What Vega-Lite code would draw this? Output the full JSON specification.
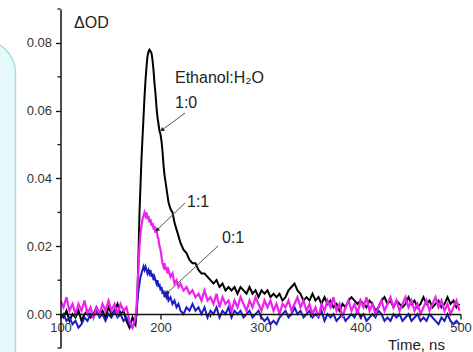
{
  "$schema": "https://vega.github.io/schema/vega-lite/v6.json",
  "width": 400,
  "height": 339,
  "autosize": "none",
  "padding": {"left": 60.5, "top": 9, "right": 12.5, "bottom": 4},
  "background": "white",
  "config": {"view": {"stroke": null}, "font": "Liberation Sans", "axis": {"grid": false}},
  "datasets": {
    "panel": [{"x1": -20.5, "x2": 55, "y1": 0.0808, "y2": -0.03}],
    "yminor": [{"v": -0.01}, {"v": 0.01}, {"v": 0.03}, {"v": 0.05}, {"v": 0.07}, {"v": 0.09}],
    "xminor": [{"v": 150}, {"v": 250}, {"v": 350}, {"v": 450}],
    "notes": [
      {"x": 214.5, "y": 0.0682, "label": "Ethanol:H₂O"},
      {"x": 214.5, "y": 0.0608, "label": "1:0"},
      {"x": 226.5, "y": 0.0316, "label": "1:1"},
      {"x": 261.5, "y": 0.021, "label": "0:1"}
    ],
    "leaders": [
      {"n": "1:0", "x1": 224.5, "y1": 0.0593, "x2": 201.5, "y2": 0.0543},
      {"n": "1:1", "x1": 224.5, "y1": 0.0328, "x2": 196.5, "y2": 0.0248},
      {"n": "0:1", "x1": 257.5, "y1": 0.0201, "x2": 206.5, "y2": 0.0062}
    ],
    "traces": [
      {"t":100,"a":0.000,"b":0.004,"c":-0.001},
      {"t":103,"a":-0.001,"b":0.002,"c":0.000},
      {"t":106,"a":0.001,"b":0.005,"c":-0.002},
      {"t":109,"a":-0.002,"b":0.001,"c":-0.001},
      {"t":112,"a":0.000,"b":0.003,"c":-0.003},
      {"t":115,"a":-0.001,"b":0.000,"c":-0.002},
      {"t":118,"a":0.001,"b":0.003,"c":-0.004},
      {"t":121,"a":-0.002,"b":0.001,"c":-0.003},
      {"t":124,"a":0.000,"b":0.004,"c":-0.001},
      {"t":127,"a":0.001,"b":0.000,"c":-0.002},
      {"t":130,"a":-0.001,"b":0.002,"c":0.000},
      {"t":133,"a":0.000,"b":-0.001,"c":-0.001},
      {"t":136,"a":0.002,"b":0.002,"c":0.001},
      {"t":139,"a":0.000,"b":0.000,"c":-0.001},
      {"t":142,"a":0.001,"b":0.003,"c":0.000},
      {"t":145,"a":-0.001,"b":0.001,"c":-0.002},
      {"t":148,"a":0.002,"b":0.004,"c":0.000},
      {"t":151,"a":0.000,"b":0.001,"c":-0.001},
      {"t":154,"a":0.001,"b":0.003,"c":0.001},
      {"t":157,"a":0.003,"b":0.000,"c":-0.001},
      {"t":160,"a":0.000,"b":0.003,"c":0.000},
      {"t":163,"a":0.001,"b":0.001,"c":-0.002},
      {"t":166,"a":-0.002,"b":0.002,"c":-0.001},
      {"t":169,"a":-0.004,"b":-0.002,"c":-0.003},
      {"t":172,"a":-0.001,"b":-0.004,"c":-0.004},
      {"t":175,"a":-0.003,"b":-0.001,"c":-0.002},
      {"t":176,"a":0.000,"b":0.002,"c":0.000},
      {"t":177,"a":0.006,"b":0.008,"c":0.004},
      {"t":178,"a":0.018,"b":0.014,"c":0.007},
      {"t":179,"a":0.030,"b":0.020,"c":0.009},
      {"t":180,"a":0.038,"b":0.024,"c":0.011},
      {"t":181,"a":0.046,"b":0.026,"c":0.012},
      {"t":182,"a":0.052,"b":0.028,"c":0.013},
      {"t":183,"a":0.058,"b":0.029,"c":0.014},
      {"t":184,"a":0.064,"b":0.030,"c":0.013},
      {"t":185,"a":0.069,"b":0.029,"c":0.014},
      {"t":186,"a":0.073,"b":0.030,"c":0.013},
      {"t":187,"a":0.076,"b":0.028,"c":0.012},
      {"t":188,"a":0.0775,"b":0.029,"c":0.013},
      {"t":189,"a":0.078,"b":0.027,"c":0.012},
      {"t":190,"a":0.0775,"b":0.028,"c":0.013},
      {"t":191,"a":0.077,"b":0.026,"c":0.011},
      {"t":192,"a":0.075,"b":0.027,"c":0.012},
      {"t":193,"a":0.072,"b":0.025,"c":0.010},
      {"t":194,"a":0.068,"b":0.026,"c":0.011},
      {"t":195,"a":0.065,"b":0.024,"c":0.010},
      {"t":196,"a":0.061,"b":0.025,"c":0.009},
      {"t":197,"a":0.058,"b":0.023,"c":0.010},
      {"t":198,"a":0.056,"b":0.022,"c":0.008},
      {"t":199,"a":0.054,"b":0.020,"c":0.009},
      {"t":200,"a":0.053,"b":0.019,"c":0.007},
      {"t":201,"a":0.051,"b":0.017,"c":0.008},
      {"t":202,"a":0.048,"b":0.015,"c":0.006},
      {"t":203,"a":0.044,"b":0.014,"c":0.007},
      {"t":204,"a":0.041,"b":0.015,"c":0.005},
      {"t":205,"a":0.039,"b":0.013,"c":0.006},
      {"t":206,"a":0.037,"b":0.014,"c":0.005},
      {"t":207,"a":0.035,"b":0.012,"c":0.006},
      {"t":208,"a":0.033,"b":0.013,"c":0.004},
      {"t":210,"a":0.031,"b":0.011,"c":0.005},
      {"t":212,"a":0.030,"b":0.012,"c":0.003},
      {"t":214,"a":0.027,"b":0.009,"c":0.004},
      {"t":216,"a":0.025,"b":0.010,"c":0.002},
      {"t":218,"a":0.023,"b":0.008,"c":0.003},
      {"t":220,"a":0.021,"b":0.009,"c":0.001},
      {"t":223,"a":0.019,"b":0.007,"c":0.000},
      {"t":226,"a":0.018,"b":0.008,"c":0.002},
      {"t":229,"a":0.016,"b":0.006,"c":0.001},
      {"t":232,"a":0.015,"b":0.007,"c":0.003},
      {"t":235,"a":0.015,"b":0.005,"c":0.001},
      {"t":238,"a":0.013,"b":0.006,"c":0.002},
      {"t":241,"a":0.012,"b":0.004,"c":0.000},
      {"t":244,"a":0.012,"b":0.007,"c":0.002},
      {"t":247,"a":0.011,"b":0.004,"c":-0.001},
      {"t":250,"a":0.010,"b":0.005,"c":0.001},
      {"t":253,"a":0.009,"b":0.003,"c":0.000},
      {"t":256,"a":0.010,"b":0.006,"c":0.002},
      {"t":259,"a":0.008,"b":0.002,"c":-0.001},
      {"t":262,"a":0.009,"b":0.005,"c":0.001},
      {"t":265,"a":0.007,"b":0.003,"c":0.000},
      {"t":268,"a":0.008,"b":0.004,"c":0.002},
      {"t":271,"a":0.007,"b":0.001,"c":-0.001},
      {"t":274,"a":0.008,"b":0.004,"c":0.001},
      {"t":277,"a":0.006,"b":0.002,"c":0.000},
      {"t":280,"a":0.008,"b":0.005,"c":0.001},
      {"t":283,"a":0.007,"b":0.003,"c":-0.001},
      {"t":286,"a":0.006,"b":0.001,"c":0.000},
      {"t":289,"a":0.008,"b":0.004,"c":0.001},
      {"t":292,"a":0.006,"b":0.002,"c":-0.001},
      {"t":295,"a":0.007,"b":0.005,"c":0.000},
      {"t":298,"a":0.005,"b":0.003,"c":0.001},
      {"t":301,"a":0.007,"b":0.001,"c":-0.001},
      {"t":304,"a":0.006,"b":0.004,"c":-0.002},
      {"t":307,"a":0.007,"b":0.002,"c":-0.001},
      {"t":310,"a":0.005,"b":0.004,"c":-0.003},
      {"t":313,"a":0.006,"b":0.001,"c":-0.002},
      {"t":316,"a":0.005,"b":0.003,"c":-0.003},
      {"t":319,"a":0.006,"b":0.000,"c":-0.001},
      {"t":322,"a":0.004,"b":0.003,"c":0.000},
      {"t":325,"a":0.005,"b":0.002,"c":0.001},
      {"t":328,"a":0.007,"b":0.004,"c":-0.001},
      {"t":331,"a":0.008,"b":0.001,"c":0.000},
      {"t":334,"a":0.009,"b":0.003,"c":0.002},
      {"t":337,"a":0.007,"b":0.005,"c":0.000},
      {"t":340,"a":0.006,"b":0.002,"c":0.001},
      {"t":343,"a":0.004,"b":0.004,"c":-0.001},
      {"t":346,"a":0.005,"b":0.001,"c":0.000},
      {"t":349,"a":0.004,"b":0.003,"c":0.001},
      {"t":352,"a":0.006,"b":0.000,"c":-0.001},
      {"t":355,"a":0.004,"b":0.002,"c":0.000},
      {"t":358,"a":0.005,"b":-0.001,"c":-0.001},
      {"t":361,"a":0.003,"b":0.003,"c":0.001},
      {"t":364,"a":0.005,"b":0.001,"c":-0.002},
      {"t":367,"a":0.003,"b":0.004,"c":0.000},
      {"t":370,"a":0.004,"b":0.002,"c":-0.001},
      {"t":373,"a":0.002,"b":0.005,"c":0.000},
      {"t":376,"a":0.003,"b":0.001,"c":-0.002},
      {"t":379,"a":0.001,"b":0.003,"c":-0.001},
      {"t":382,"a":0.003,"b":-0.001,"c":0.000},
      {"t":385,"a":0.002,"b":0.002,"c":-0.002},
      {"t":388,"a":0.004,"b":0.004,"c":-0.001},
      {"t":391,"a":0.005,"b":0.001,"c":0.000},
      {"t":394,"a":0.004,"b":0.003,"c":-0.001},
      {"t":397,"a":0.003,"b":0.000,"c":0.001},
      {"t":400,"a":0.004,"b":0.004,"c":-0.001},
      {"t":403,"a":0.003,"b":0.002,"c":0.000},
      {"t":406,"a":0.002,"b":0.005,"c":-0.002},
      {"t":409,"a":0.004,"b":0.001,"c":-0.001},
      {"t":412,"a":0.003,"b":0.003,"c":0.000},
      {"t":415,"a":0.001,"b":0.000,"c":-0.001},
      {"t":418,"a":0.002,"b":0.002,"c":0.001},
      {"t":421,"a":0.004,"b":0.004,"c":0.000},
      {"t":424,"a":0.005,"b":0.001,"c":-0.002},
      {"t":427,"a":0.003,"b":0.003,"c":-0.001},
      {"t":430,"a":0.004,"b":0.005,"c":-0.002},
      {"t":433,"a":0.002,"b":0.002,"c":0.000},
      {"t":436,"a":0.004,"b":0.004,"c":-0.001},
      {"t":439,"a":0.003,"b":0.001,"c":0.000},
      {"t":442,"a":0.002,"b":0.003,"c":-0.002},
      {"t":445,"a":0.003,"b":0.005,"c":-0.001},
      {"t":448,"a":0.005,"b":0.002,"c":0.000},
      {"t":451,"a":0.003,"b":0.004,"c":-0.002},
      {"t":454,"a":0.004,"b":0.001,"c":-0.001},
      {"t":457,"a":0.002,"b":0.003,"c":0.000},
      {"t":460,"a":0.003,"b":0.000,"c":-0.002},
      {"t":463,"a":0.005,"b":0.002,"c":-0.001},
      {"t":466,"a":0.003,"b":0.004,"c":-0.002},
      {"t":469,"a":0.004,"b":0.001,"c":0.000},
      {"t":472,"a":0.002,"b":0.003,"c":-0.001},
      {"t":475,"a":0.003,"b":0.005,"c":-0.002},
      {"t":478,"a":0.004,"b":0.002,"c":-0.003},
      {"t":481,"a":0.002,"b":0.004,"c":-0.001},
      {"t":484,"a":0.003,"b":0.001,"c":-0.002},
      {"t":487,"a":0.005,"b":0.003,"c":0.000},
      {"t":490,"a":0.003,"b":0.000,"c":-0.002},
      {"t":493,"a":0.004,"b":0.002,"c":-0.003},
      {"t":496,"a":0.002,"b":0.004,"c":-0.002},
      {"t":499,"a":0.003,"b":0.001,"c":-0.003}
    ]
  },
  "layer": [
    {
      "data": {"name": "panel"},
      "mark": {"type": "rect", "fill": "#e6fafc", "stroke": "#a9dde2", "strokeWidth": 1.5, "cornerRadius": 33, "clip": false},
      "encoding": {
        "x": {"field": "x1", "type": "quantitative", "scale": {"domain": [100, 500], "nice": false, "zero": false}},
        "x2": {"field": "x2"},
        "y": {"field": "y1", "type": "quantitative", "scale": {"domain": [-0.01, 0.09], "nice": false, "zero": false}},
        "y2": {"field": "y2"}
      }
    },
    {
      "data": {"name": "traces"},
      "mark": {"type": "line", "color": "#000000", "strokeWidth": 2, "clip": true},
      "encoding": {
        "x": {"field": "t", "type": "quantitative", "scale": {"domain": [100, 500], "nice": false, "zero": false},
          "axis": {
            "values": [100, 200, 300, 400, 500],
            "tickSize": 5,
            "offset": -34,
            "labelFontSize": 13, "labelColor": "#333333", "labelPadding": 2, "labelFlush": false, "labelOverlap": false,
            "domainColor": "#111111", "domainWidth": 1.5, "tickColor": "#111111", "tickWidth": 1.3,
            "title": "Time, ns", "titleX": 327, "titleY": 35, "titleAlign": "left", "titleBaseline": "alphabetic",
            "titleFontSize": 15, "titleFontWeight": "normal", "titleColor": "#222222", "zindex": 1
          }
        },
        "y": {"field": "a", "type": "quantitative", "scale": {"domain": [-0.01, 0.09], "nice": false, "zero": false},
          "axis": {
            "values": [0, 0.02, 0.04, 0.06, 0.08],
            "format": ".2f",
            "tickSize": 5,
            "labelFontSize": 13, "labelColor": "#333333", "labelPadding": 4, "labelOverlap": false,
            "domainColor": "#111111", "domainWidth": 1.5, "tickColor": "#111111", "tickWidth": 1.3,
            "title": "ΔOD", "titleAngle": 0, "titleAlign": "left", "titleBaseline": "middle", "titleX": 13, "titleY": 13.5,
            "titleFontSize": 16, "titleFontWeight": "normal", "titleColor": "#222222", "zindex": 1
          }
        }
      }
    },
    {
      "data": {"name": "traces"},
      "mark": {"type": "line", "color": "#1c1cc4", "strokeWidth": 2, "clip": true},
      "encoding": {
        "x": {"field": "t", "type": "quantitative"},
        "y": {"field": "c", "type": "quantitative"}
      }
    },
    {
      "data": {"name": "traces"},
      "mark": {"type": "line", "color": "#ee22ee", "strokeWidth": 2.2, "clip": true},
      "encoding": {
        "x": {"field": "t", "type": "quantitative"},
        "y": {"field": "b", "type": "quantitative"}
      }
    },
    {
      "data": {"name": "yminor"},
      "mark": {"type": "rule", "color": "#111111", "strokeWidth": 1.3, "clip": false},
      "encoding": {
        "y": {"field": "v", "type": "quantitative"},
        "x": {"datum": 97},
        "x2": {"datum": 100}
      }
    },
    {
      "data": {"name": "xminor"},
      "mark": {"type": "rule", "color": "#111111", "strokeWidth": 1.3, "clip": false},
      "encoding": {
        "x": {"field": "v", "type": "quantitative"},
        "y": {"datum": 0},
        "y2": {"datum": -0.001}
      }
    },
    {
      "data": {"name": "leaders"},
      "mark": {"type": "rule", "color": "#555555", "strokeWidth": 1},
      "encoding": {
        "x": {"field": "x1", "type": "quantitative"},
        "y": {"field": "y1", "type": "quantitative"},
        "x2": {"field": "x2"},
        "y2": {"field": "y2"}
      }
    },
    {
      "data": {"name": "leaders"},
      "transform": [{"filter": "datum.n === '1:0'"}],
      "mark": {"type": "point", "shape": "triangle-up", "filled": true, "color": "#222222", "size": 22, "opacity": 1, "angle": 233},
      "encoding": {
        "x": {"field": "x2", "type": "quantitative"},
        "y": {"field": "y2", "type": "quantitative"}
      }
    },
    {
      "data": {"name": "leaders"},
      "transform": [{"filter": "datum.n !== '1:0'"}],
      "mark": {"type": "point", "shape": "triangle-up", "filled": true, "color": "#222222", "size": 22, "opacity": 1, "angle": 226},
      "encoding": {
        "x": {"field": "x2", "type": "quantitative"},
        "y": {"field": "y2", "type": "quantitative"}
      }
    },
    {
      "data": {"name": "notes"},
      "mark": {"type": "text", "align": "left", "baseline": "alphabetic", "fontSize": 16, "color": "#222222", "font": "Liberation Sans"},
      "encoding": {
        "x": {"field": "x", "type": "quantitative"},
        "y": {"field": "y", "type": "quantitative"},
        "text": {"field": "label"}
      }
    }
  ]
}
